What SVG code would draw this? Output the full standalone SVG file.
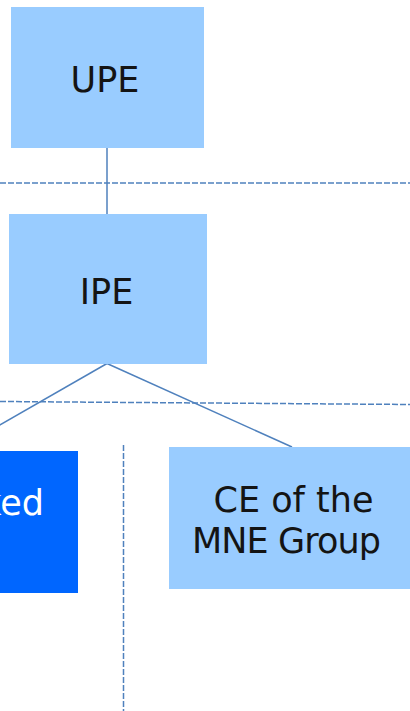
<svg xmlns="http://www.w3.org/2000/svg" width="410" height="711" viewBox="0 0 410 711">
<style>
.lb{fill:#99CCFF}
.db{fill:#0066FF}
.t{font-family:"DejaVu Sans",Verdana,sans-serif;font-size:35px;fill:#141414}
.tw{font-family:"DejaVu Sans",Verdana,sans-serif;font-size:35px;fill:#ffffff}
.ln{stroke:#4F81BD;stroke-width:1.5;fill:none}
.ds{stroke:#4F81BD;stroke-width:1.5;fill:none;stroke-dasharray:6 2}
</style>
<rect width="410" height="711" fill="#ffffff"/>
<g id="connectors">
<line class="ds" x1="0" y1="183" x2="410" y2="183"/>
<line class="ds" x1="0" y1="401.5" x2="410" y2="404.5"/>
<line class="ds" x1="123.5" y1="445" x2="123.5" y2="711"/>
<line class="ln" x1="107" y1="148" x2="107" y2="214"/>
<line class="ln" x1="107" y1="363.5" x2="-2" y2="426"/>
<line class="ln" x1="107" y1="363.5" x2="292" y2="447"/>
</g>
<g id="upe">
<rect class="lb" x="11" y="7" width="193" height="141"/>
<text class="t" x="105" y="92" text-anchor="middle">UPE</text>
</g>
<g id="ipe">
<rect class="lb" x="9" y="214" width="198" height="150"/>
<text class="t" x="106.5" y="304" text-anchor="middle">IPE</text>
</g>
<g id="excluded">
<rect class="db" x="-10" y="451" width="88" height="142"/>
<text class="tw" x="44" y="515" text-anchor="end">ked</text>
</g>
<g id="ce">
<rect class="lb" x="169" y="447" width="241" height="142"/>
<text class="t" x="293.5" y="512" text-anchor="middle">CE of the</text>
<text class="t" x="286.5" y="553" text-anchor="middle" textLength="189" lengthAdjust="spacing">MNE Group</text>
</g>
</svg>
